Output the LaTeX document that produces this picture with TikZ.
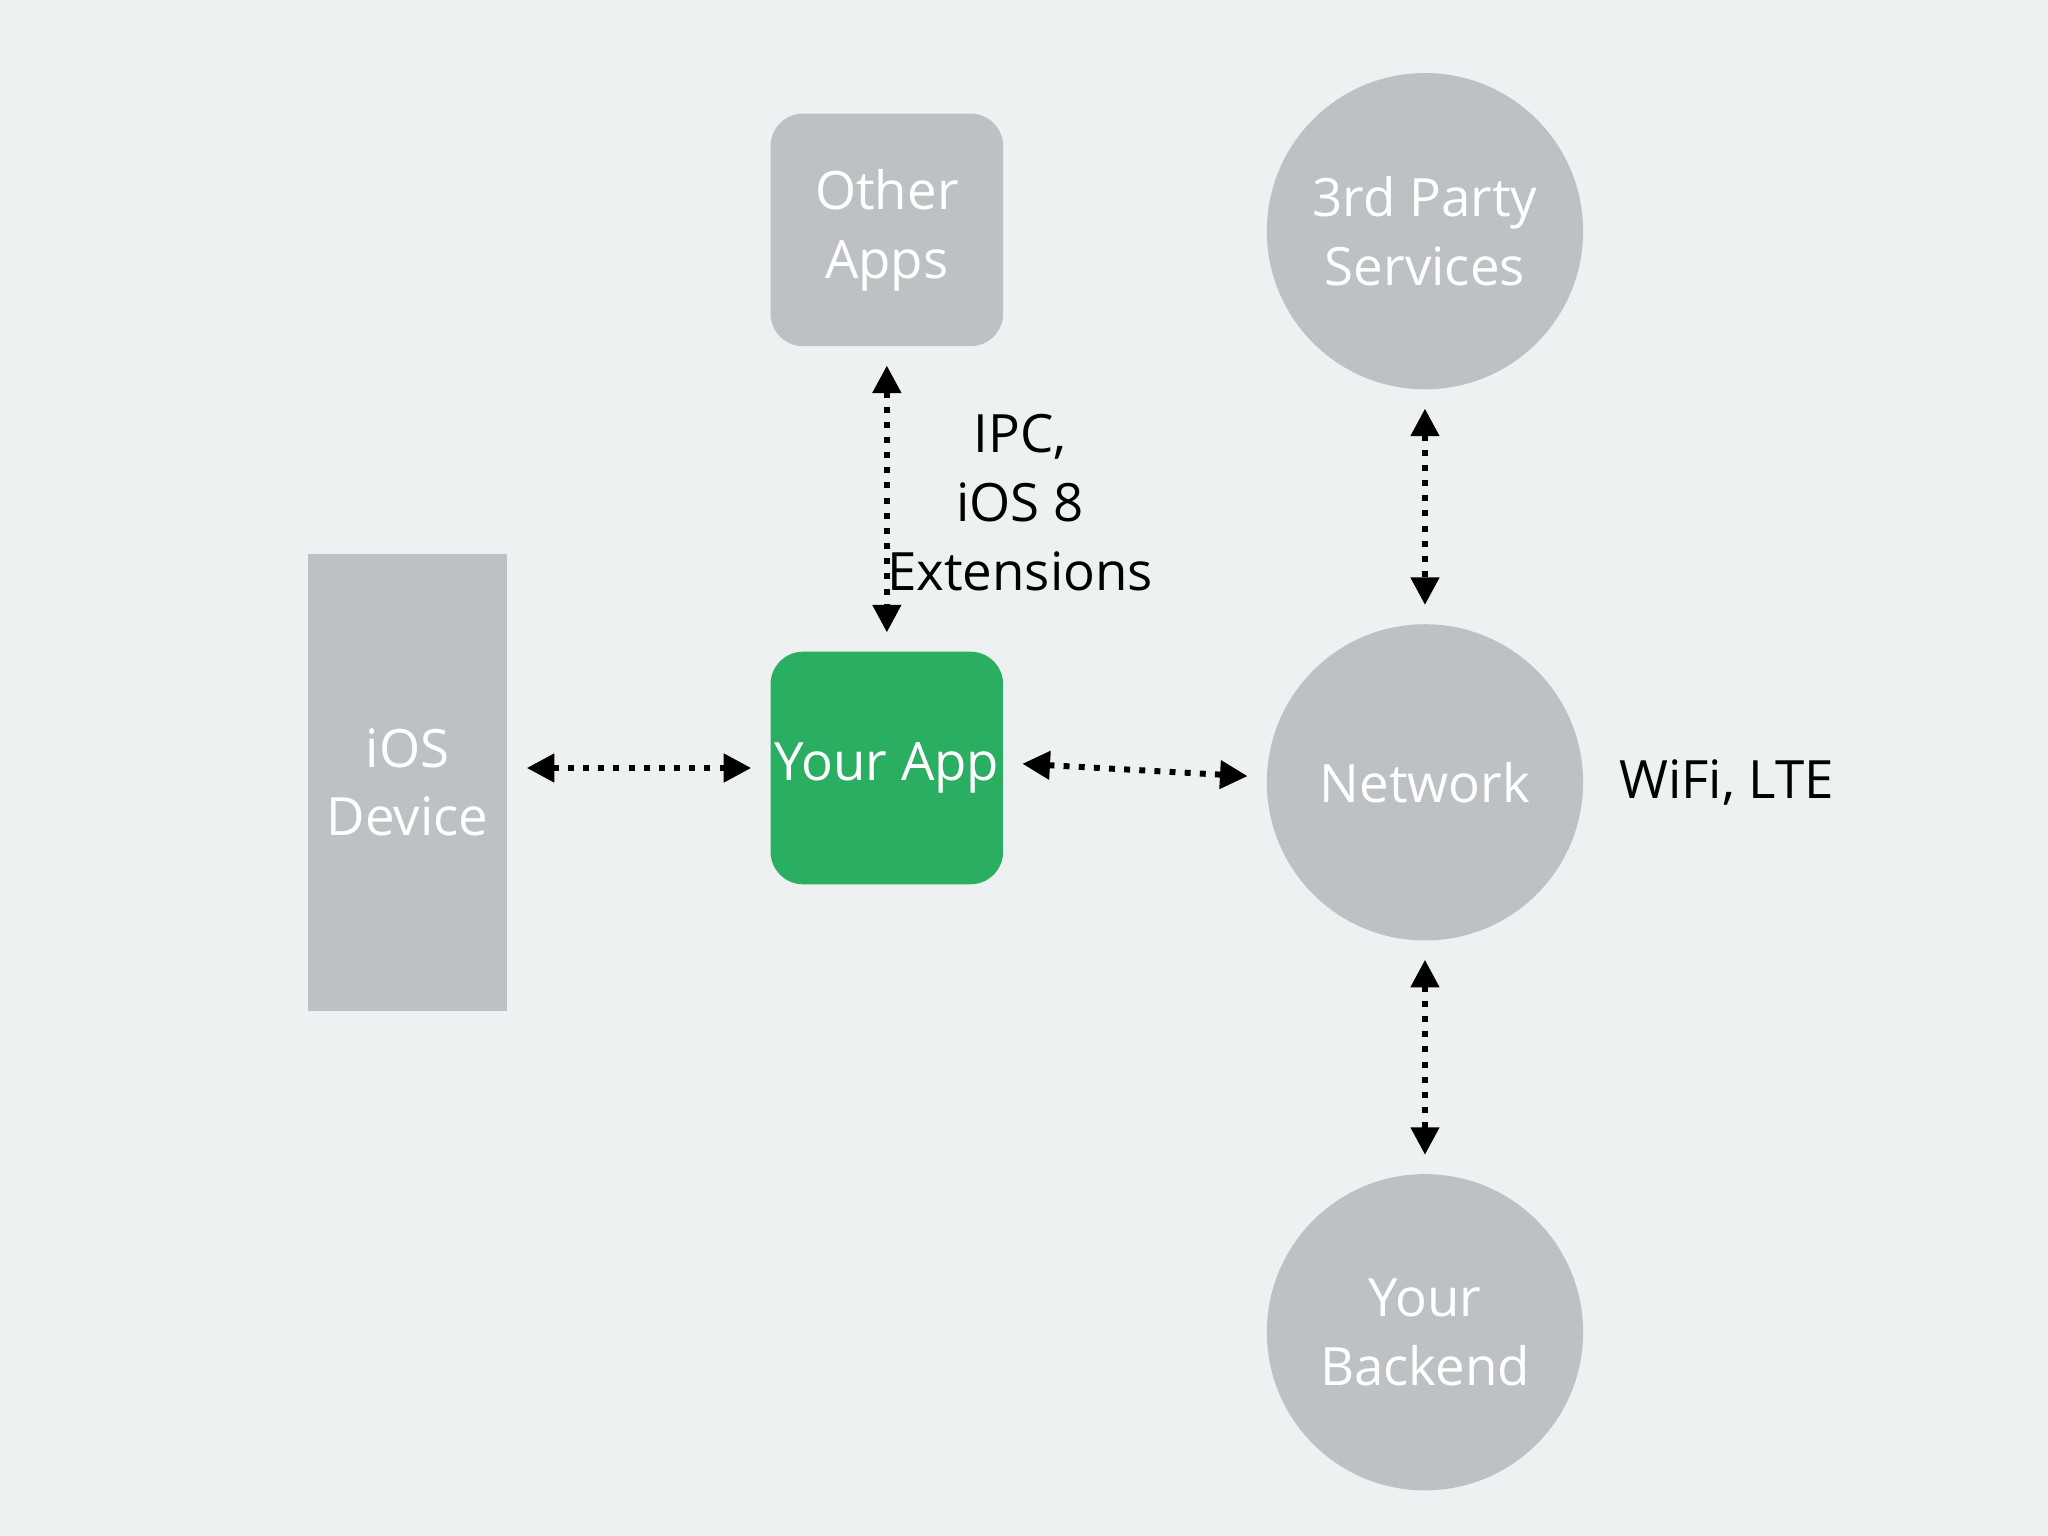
\documentclass[tikz,border=0pt]{standalone}
\usepackage{fontspec}
\setmainfont{Open Sans}
\usetikzlibrary{arrows.meta}
\definecolor{bgcol}{HTML}{EDF1F2}
\definecolor{boxgray}{HTML}{BDC1C3}
\definecolor{appgreen}{HTML}{29AE62}
\begin{document}
\begin{tikzpicture}[x=0.01cm, y=-0.01cm, font=\fontsize{11.5}{15}\selectfont,
    gbox/.style = {fill=boxgray, text=white, rounded corners=0.25cm, minimum size=1.78cm, align=center, inner sep=0},
    gcirc/.style = {circle, fill=boxgray, text=white, minimum size=2.42cm, align=center, inner sep=0},
    link/.style = {{Triangle[length=6pt,width=6pt]}-{Triangle[length=6pt,width=6pt]}, line width=1.3pt, dotted, shorten >=4pt, shorten <=4pt}]
    \fill[bgcol] (0,0) rectangle (1568,1176);
    \node[gbox] (other) at (679,176) {Other\\Apps};
    \node[gbox, fill=appgreen] (app) at (679,588) {Your App};
    \node[fill=boxgray, text=white, minimum width=1.53cm, minimum height=3.5cm, align=center] (dev) at (312,599) {iOS\\Device};
    \node[gcirc] (third) at (1091,177) {3rd Party\\Services};
    \node[gcirc] (net) at (1091,599) {Network};
    \node[gcirc] (back) at (1091,1020) {Your\\Backend};
    \node[align=center] (ipc) at (781,385) {IPC,\\iOS 8\\Extensions};
    \node (wifi) at (1322,599) {WiFi, LTE};
    \draw[link] (other) -- (app);
    \draw[link] (dev.east |- app) -- (app);
    \draw[link] ([yshift=0.04cm]app.east) -- ([yshift=0.04cm]net.west);
    \draw[link] (third) -- (net);
    \draw[link] (net) -- (back);
\end{tikzpicture}
\end{document}
